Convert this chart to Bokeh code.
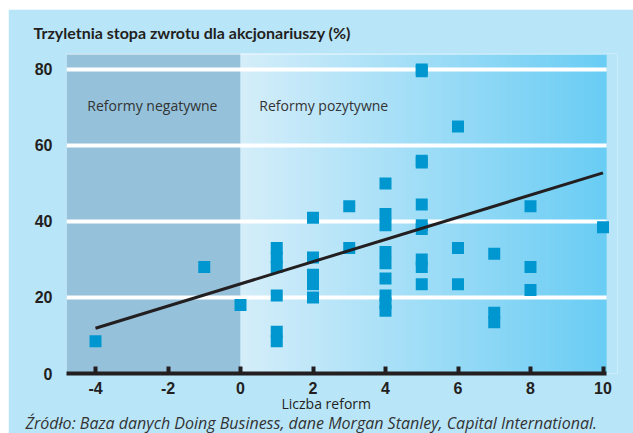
import numpy as np
from bokeh.plotting import figure
from bokeh.models import Label, FixedTicker, Range1d, Title
from bokeh.embed import file_html
from bokeh.resources import INLINE

# ---- data ----
reform_x = [-4, -1, 0,
            1, 1, 1, 1, 1, 1,
            2, 2, 2, 2, 2,
            3, 3,
            4, 4, 4, 4, 4, 4, 4, 4, 4,
            5, 5, 5, 5, 5, 5, 5, 5, 5, 5,
            6, 6, 6,
            7, 7, 7,
            8, 8, 8,
            10]
return_y = [8.5, 28, 18,
            28, 30.5, 33, 20.5, 8.5, 11,
            41, 30.5, 26, 23.5, 20,
            44, 33,
            50, 42, 39, 32, 29, 25, 20.5, 18.5, 16.5,
            80, 79.5, 56, 55.5, 44.5, 39, 38, 30, 28, 23.5,
            65, 33, 23.5,
            31.5, 16, 13.5,
            44, 28, 22,
            38.5]
trend_x = [-4, 10]
trend_y = [11.9, 52.8]
x_ticks = [-4, -2, 0, 2, 4, 6, 8, 10]
x_tick_labels = ["-4", "-2", "0", "2", "4", "6", "8", "10"]
y_ticks = [0, 20, 40, 60, 80]
grid_y = [20, 40, 60, 80]

title_text = "Trzyletnia stopa zwrotu dla akcjonariuszy (%)"
neg_text = "Reformy negatywne"
pos_text = "Reformy pozytywne"
xlabel_text = "Liczba reform"
source_text = "Źródło: Baza danych Doing Business, dane Morgan Stanley, Capital International."

OUTER = "#b9e5f9"
NEG = "#95c2da"
DARK = "#231f20"
POINT = "#0097d0"

X0, X1, XEND = -4.8, 10.1, 10.4
YTOP = 84.2

p = figure(width=625, height=424, output_backend="svg", toolbar_location=None,
           x_range=Range1d(X0, XEND), y_range=Range1d(0, YTOP),
           min_border_left=58, min_border_right=16, min_border_top=43, min_border_bottom=60)
p.margin = (9, 0, 0, 8)
p.background_fill_color = OUTER
p.border_fill_color = OUTER
p.outline_line_color = None
p.xgrid.visible = False
p.ygrid.visible = False

# negative region
p.quad(left=[X0], right=[0], bottom=[0], top=[YTOP], fill_color=NEG, line_color=None)

# gradient for positive region
n = 256
c0 = np.array([213, 238, 250], dtype=float)
c1 = np.array([106, 205, 244], dtype=float)
t = np.linspace(0, 1, n)
rgb = (c0[None, :] * (1 - t[:, None]) + c1[None, :] * t[:, None]).astype(np.uint8)
img = np.empty((1, n), dtype=np.uint32)
view = img.view(dtype=np.uint8).reshape((1, n, 4))
view[0, :, 0] = rgb[:, 0]
view[0, :, 1] = rgb[:, 1]
view[0, :, 2] = rgb[:, 2]
view[0, :, 3] = 255
p.image_rgba(image=[img], x=0, y=0, dw=X1 - 0, dh=YTOP)

# grid lines
p.segment(x0=[X0] * len(grid_y), x1=[X1] * len(grid_y), y0=grid_y, y1=grid_y,
          line_color="white", line_width=4)
p.segment(x0=[X0], x1=[X1], y0=[YTOP - 0.15], y1=[YTOP - 0.15], line_color="white",
          line_width=1, line_alpha=0.8)

# region labels
p.add_layout(Label(x=-2.43, y=70.6, text=neg_text, text_align="center", text_baseline="middle",
                   text_font="Open Sans", text_font_size="14px", text_color="#333333"))
p.add_layout(Label(x=0.52, y=70.6, text=pos_text, text_align="left", text_baseline="middle",
                   text_font="Open Sans", text_font_size="14px", text_color="#333333"))

# points & trend
p.scatter(reform_x, return_y, marker="square", size=12, fill_color=POINT, line_color=None)
p.line(trend_x, trend_y, line_color=DARK, line_width=3)

# axes
xa = p.xaxis[0]
xa.ticker = FixedTicker(ticks=x_ticks)
xa.major_label_overrides = {tk: lb for tk, lb in zip(x_ticks, x_tick_labels)}
xa.bounds = (X0, X1)
xa.axis_line_color = DARK
xa.axis_line_width = 4
xa.major_tick_line_color = DARK
xa.major_tick_line_width = 4
xa.major_tick_in = 7
xa.major_tick_out = 0
xa.minor_tick_line_color = None
xa.major_label_standoff = 8
xa.major_label_text_font = "Liberation Sans"
xa.major_label_text_font_style = "bold"
xa.major_label_text_font_size = "16px"
xa.major_label_text_color = DARK

ya = p.yaxis[0]
ya.ticker = FixedTicker(ticks=y_ticks)
ya.axis_line_color = None
ya.major_tick_line_color = None
ya.minor_tick_line_color = None
ya.major_tick_out = 0
ya.major_tick_in = 0
ya.major_label_standoff = 14
ya.major_label_text_font = "Liberation Sans"
ya.major_label_text_font_style = "bold"
ya.major_label_text_font_size = "16px"
ya.major_label_text_color = DARK

# texts outside the frame
p.title = Title(text=title_text, align="left", offset=-33, standoff=23,
                text_font="Lato", text_font_style="bold", text_font_size="16px",
                text_color=DARK)
p.add_layout(Title(text=xlabel_text, align="left", offset=215, standoff=-5,
                   vertical_align="top",
                   text_font="Open Sans", text_font_style="normal", text_font_size="14px",
                   text_color=DARK), "below")
p.add_layout(Title(text=source_text, align="left", offset=-41, standoff=-6,
                   text_font="Open Sans", text_font_style="italic", text_font_size="16px",
                   text_color="#333333"), "below")

open("out.html", "w").write(file_html(p, INLINE))
